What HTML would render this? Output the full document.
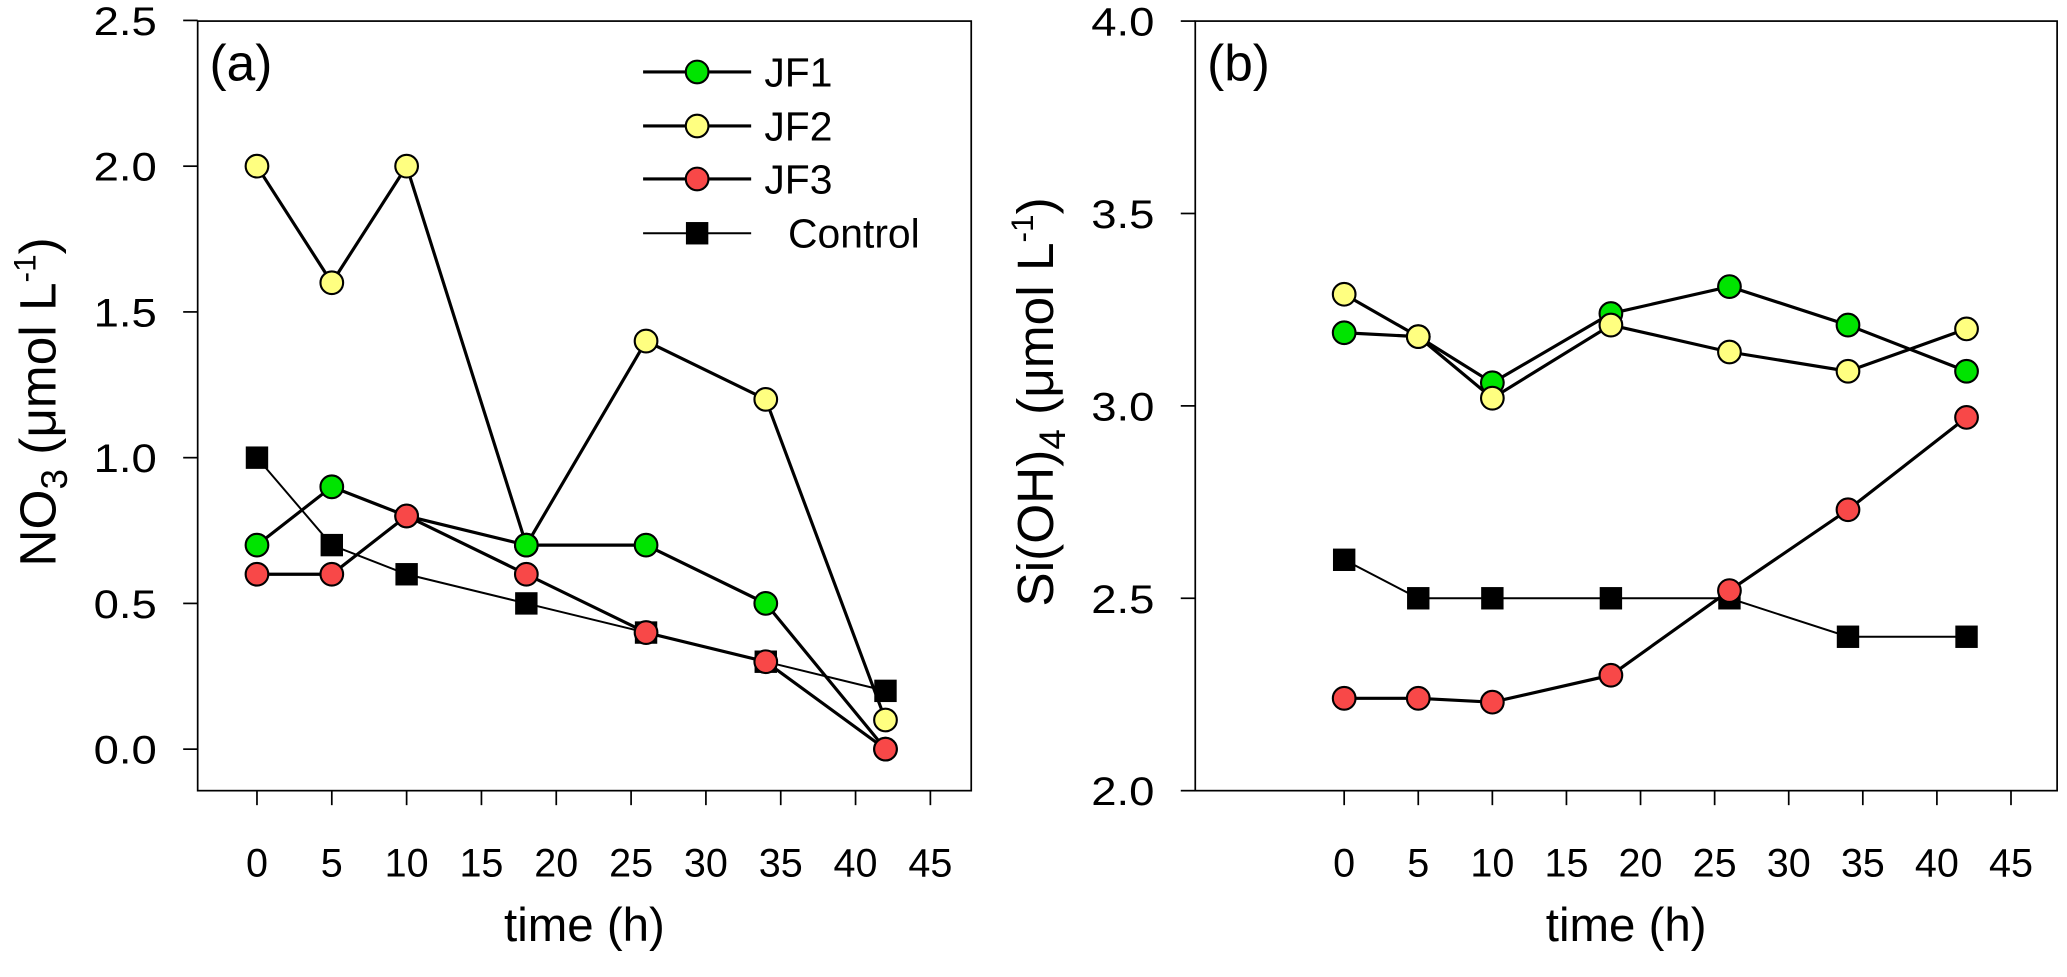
<!DOCTYPE html>
<html><head><meta charset="utf-8"><style>
html,body{margin:0;padding:0;background:#fff}
svg{display:block}
text{font-family:"Liberation Sans",Arial,sans-serif;fill:#000}
</style></head><body>
<svg id="chart" width="2067" height="977" viewBox="0 0 1568.5 741.4" preserveAspectRatio="none" xmlns="http://www.w3.org/2000/svg"></svg>
<script>
const times = [0, 5, 10, 18, 26, 34, 42];
const no3JF1 = [0.7, 0.9, 0.8, 0.7, 0.7, 0.5, 0.0];
const no3JF2 = [2.0, 1.6, 2.0, 0.7, 1.4, 1.2, 0.1];
const no3JF3 = [0.6, 0.6, 0.8, 0.6, 0.4, 0.3, 0.0];
const no3Control = [1.0, 0.7, 0.6, 0.5, 0.4, 0.3, 0.2];
const siJF1 = [3.19, 3.18, 3.06, 3.24, 3.31, 3.21, 3.09];
const siJF2 = [3.29, 3.18, 3.02, 3.21, 3.14, 3.09, 3.20];
const siJF3 = [2.24, 2.24, 2.23, 2.30, 2.52, 2.73, 2.97];
const siControl = [2.6, 2.5, 2.5, 2.5, 2.5, 2.4, 2.4];
const xTicks = [0, 5, 10, 15, 20, 25, 30, 35, 40, 45];
const yTicksA = ["0.0", "0.5", "1.0", "1.5", "2.0", "2.5"];
const yTicksB = ["2.0", "2.5", "3.0", "3.5", "4.0"];

const NS = "http://www.w3.org/2000/svg";
const svg = document.getElementById('chart');
function mk(tag, attrs, parent) {
  const e = document.createElementNS(NS, tag);
  for (const k in attrs) e.setAttribute(k, attrs[k]);
  (parent || svg).appendChild(e);
  return e;
}
const colors = {JF1: "#00e400", JF2: "#ffff80", JF3: "#f84848"};

function panel(p) {
  const g = mk('g', {});
  
  
  const xs = v => p.x0 + (v - 0) * (p.x45 - p.x0) / 45;
  const ys = v => p.yBot + (v - p.ymin) * (p.yTop - p.yBot) / (p.ymax - p.ymin);
  const frame = mk('rect', {x: p.L, y: 16, width: p.R - p.L, height: 584, fill: 'none', stroke: '#000', 'stroke-width': 1.3}, g);
  
  
  xTicks.forEach(t => {
    const x = xs(t);
    mk('line', {x1: x, x2: x, y1: 600, y2: 611, stroke: '#000', 'stroke-width': 1.3}, g);
    const tx = mk('text', {x: x, y: 665, 'text-anchor': 'middle', 'font-size': 30}, g);
    tx.textContent = t;
    
    
  });
  p.yTicks.forEach(t => {
    const y = ys(parseFloat(t));
    mk('line', {x1: p.L - 11, x2: p.L, y1: y, y2: y, stroke: '#000', 'stroke-width': 1.3}, g);
    const tx = mk('text', {x: 0, y: 0, 'text-anchor': 'end', 'font-size': 30, transform: `translate(${p.L - 31},${y + 11}) scale(1.15,1)`}, g);
    tx.textContent = t;
    
    
  });
  const xt = mk('text', {x: (p.L + p.R) / 2, y: 714, 'text-anchor': 'middle', 'font-size': 36}, g);
  xt.textContent = 'time (h)';
  
  
  const yt = mk('text', {x: 0, y: 0, 'text-anchor': 'middle', 'font-size': 39, transform: `translate(${p.L - 108},305) rotate(-90)`}, g);
  yt.innerHTML = p.ytitle;
  
  
  const lab = mk('text', {x: p.L + 9, y: 61, 'font-size': 39}, g);
  lab.textContent = p.label;
  
  

  p.series.forEach(s => {
    const pts = times.map((t, i) => xs(t) + ',' + ys(s.vals[i])).join(' ');
    const pl = mk('polyline', {points: pts, fill: 'none', stroke: '#000', 'stroke-width': s.key === 'Control' ? 1.5 : 2.4}, g);
    
    
  });
  p.series.forEach(s => {
    times.forEach((t, i) => {
      let m;
      if (s.key === 'Control') {
        m = mk('rect', {x: xs(t) - 8.5, y: ys(s.vals[i]) - 8.5, width: 17, height: 17, fill: '#000'}, g);
      } else {
        m = mk('circle', {cx: xs(t), cy: ys(s.vals[i]), r: 8.6, fill: colors[s.key], stroke: '#000', 'stroke-width': 1.6}, g);
      }
      
      
    });
  });
}

panel({name: 'panel-a', L: 150, R: 737, x0: 195, x45: 706, yBot: 568.5, yTop: 15.5, ymin: 0, ymax: 2.5,
  yTicks: yTicksA, label: '(a)', ytitle: 'NO<tspan font-size="28" dy="9">3</tspan><tspan dy="-9"> (μmol L</tspan><tspan font-size="24" dy="-15">-1</tspan><tspan dy="15">)</tspan>',
  series: [{key: 'Control', vals: no3Control}, {key: 'JF2', vals: no3JF2}, {key: 'JF1', vals: no3JF1}, {key: 'JF3', vals: no3JF3}]});
panel({name: 'panel-b', L: 907, R: 1561, x0: 1020, x45: 1526, yBot: 600, yTop: 16, ymin: 2.0, ymax: 4.0,
  yTicks: yTicksB, label: '(b)', ytitle: 'Si(OH)<tspan font-size="28" dy="9">4</tspan><tspan dy="-9"> (μmol L</tspan><tspan font-size="24" dy="-15">-1</tspan><tspan dy="15">)</tspan>',
  series: [{key: 'Control', vals: siControl}, {key: 'JF1', vals: siJF1}, {key: 'JF2', vals: siJF2}, {key: 'JF3', vals: siJF3}]});

const legendKeys = ['JF1', 'JF2', 'JF3', 'Control'];
const legendRows = [54.6, 95.6, 135.8, 177];
const lg = mk('g', {});


legendKeys.forEach((k, i) => {
  const y = legendRows[i];
  const e = mk('g', {}, lg);
  
  
  mk('line', {x1: 488, x2: 570, y1: y, y2: y, stroke: '#000', 'stroke-width': k === 'Control' ? 1.5 : 2.4}, e);
  if (k === 'Control') mk('rect', {x: 520.5, y: y - 8.5, width: 17, height: 17, fill: '#000'}, e);
  else mk('circle', {cx: 529, cy: y, r: 8.6, fill: colors[k], stroke: '#000', 'stroke-width': 1.6}, e);
  const t = mk('text', {x: k === 'Control' ? 598 : 580, y: y + 11, 'font-size': 31}, e);
  t.textContent = k;
});
</script>
</body></html>
